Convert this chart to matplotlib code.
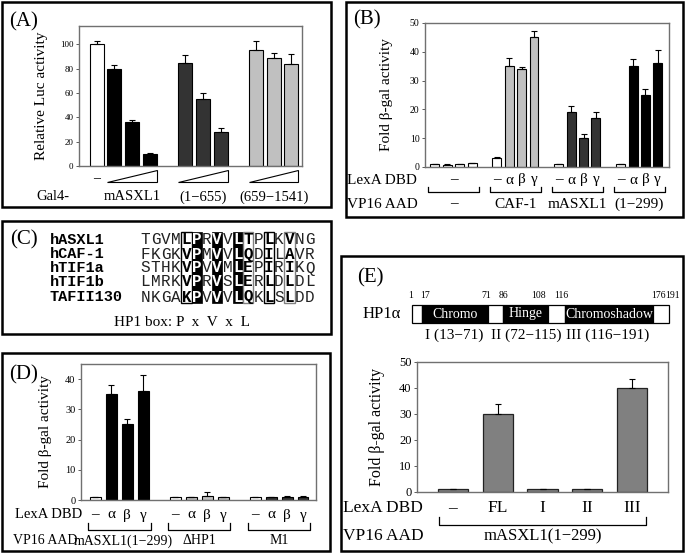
import numpy as np
import matplotlib.pyplot as plt
from matplotlib.patches import Rectangle, Polygon
from matplotlib.transforms import blended_transform_factory

# ---------------- data ----------------
# (A) Gal4 luciferase repression
a_ctrl = [100]
a_ctrl_err = [3]
a_full = [80, 36, 10]
a_full_err = [3, 2, 0.5]
a_nterm = [85, 55, 28]
a_nterm_err = [6, 5, 3]
a_cterm = [95, 89, 84]
a_cterm_err = [8, 4, 8]
a_groups = ['mASXL1', '(1\u2212655)', '(659\u22121541)']

# (B) two-hybrid, HP1 isoforms
b_dbd = ['\u2013', '\u03b1', '\u03b2', '\u03b3']
b_aad = ['\u2013', 'CAF-1', 'mASXL1', '(1\u2212299)']
b_vals = [[1, 0.8, 1, 1.3], [3, 35, 34, 45], [1, 19, 10, 17], [1, 35, 25, 36]]
b_errs = [[0.1, 0.1, 0.1, 0.1], [0.5, 2.7, 0.8, 2.3], [0.2, 2.2, 1.5, 2.0], [0.2, 2.5, 2.2, 4.6]]

# (C) HP1 box alignment
c_names = ['hASXL1', 'hCAF-1', 'hTIF1a', 'hTIF1b', 'TAFII130']
c_seqs = ['TGVMLPRVVLTPLKVNG', 'FKGKVPMVVLQDILAVR', 'STHKVPVVMLEPIRIKQ',
          'LMRKVPRVSLERLDLDL', 'NKGAKPVVVLQKLSLDD']
c_black = [5, 7, 9]
c_boxed = [4, 10, 12, 14]

# (D) HP1 box mutants
d_aad = ['mASXL1(1\u2212299)', '\u0394HP1', 'M1']
d_vals = [[1, 35, 25, 36], [1, 1, 1.2, 1], [1, 1, 1.1, 1.1]]
d_errs = [[0.1, 3.2, 1.8, 5.5], [0.1, 0.1, 1.3, 0.1], [0.1, 0.1, 0.2, 0.2]]

# (E) HP1alpha domains
e_dbd = ['\u2013', 'FL', 'I', 'II', 'III']
e_vals = [1, 30, 1, 1, 40]
e_errs = [0.3, 3.7, 0.1, 0.1, 3.5]
hp1_domains = ['Chromo', 'Hinge', 'Chromoshadow']
hp1_residues = [1, 17, 71, 86, 108, 116, 176, 191]
hp1_fragments = ['I (13\u221271)', 'II (72\u2212115)', 'III (116\u2212191)']

# ---------------- layout helpers (pixel coords, y down) ----------------
W, H = 685, 553
plt.rcParams['font.family'] = ['Liberation Serif', 'DejaVu Serif']
fig = plt.figure(figsize=(W / 100, H / 100), dpi=100)


def fx(x):
    return x / W


def fy(y):
    return 1 - y / H


def panel_box(l, t, r, b):
    fig.patches.append(Rectangle((fx(l), fy(b)), (r - l) / W, (b - t) / H,
                                 transform=fig.transFigure, fill=False,
                                 lw=1.8, ec='black'))


def add_ax(l, t, r, b):
    return fig.add_axes([fx(l), fy(b), (r - l) / W, (b - t) / H])


def txt(x, y, s, **kw):
    kw.setdefault('ha', 'center')
    kw.setdefault('va', 'center')
    fig.text(fx(x), fy(y), s, **kw)


def style_ax(ax, frame='#707070', lsize=7):
    for sp in ax.spines.values():
        sp.set_color(frame)
        sp.set_linewidth(1.0)
    ax.set_xticks([])
    ax.tick_params(axis='y', direction='out', length=2, width=0.6,
                   labelsize=lsize, pad=2, color='#404040')


def bracket(ax, x0, x1, ytop, ybot):
    tr = blended_transform_factory(ax.transData, fig.transFigure)
    ax.plot([x0, x0, x1, x1], [fy(ytop), fy(ybot), fy(ybot), fy(ytop)],
            color='black', lw=0.9, transform=tr, clip_on=False)


ek = dict(ecolor='black', elinewidth=0.8, capsize=2.5, capthick=0.8)

# ================= (A) =================
panel_box(2, 2, 331, 207)
txt(24, 22, '(A)', fontsize=15)
axA = add_ax(79, 26, 302, 166)
style_ax(axA, lsize=6.5)
a_sets = [(a_ctrl, a_ctrl_err, 'white', [0]),
          (a_full, a_full_err, 'black', [1, 2, 3]),
          (a_nterm, a_nterm_err, '#333333', [5, 6, 7]),
          (a_cterm, a_cterm_err, '#c0c0c0', [9, 10, 11])]
for vals, errs, col, xs in a_sets:
    axA.bar(xs, vals, width=0.8, color=col, edgecolor='black', linewidth=0.8,
            yerr=[np.zeros(len(vals)), errs], error_kw=ek)
axA.set_xlim(-1, 11.6)
axA.set_ylim(0, 115)
axA.set_yticks(range(0, 101, 20))
txt(41, 96, 'Relative Luc activity', rotation=90, fontsize=11)
trA = blended_transform_factory(axA.transData, fig.transFigure)
axA.text(0, fy(179), '\u2013', transform=trA, ha='center', va='center', fontsize=10)
for i, xs in enumerate([[1, 2, 3], [5, 6, 7], [9, 10, 11]]):
    x0, x1 = xs[0] - 0.4, xs[-1] + 0.4
    axA.add_patch(Polygon([(x0, fy(182)), (x1, fy(182)), (x1, fy(170))],
                          closed=True, fc='white', ec='black', lw=0.8,
                          transform=trA, clip_on=False))
    axA.text(np.mean(xs), fy(197), a_groups[i], transform=trA,
             ha='center', va='center', fontsize=10.5)
txt(36, 197, 'Gal4-', fontsize=10.5, ha='left')

# ================= (B) =================
panel_box(346, 2, 683, 217)
txt(367, 20, '(B)', fontsize=15)
axB = add_ax(425, 23, 669, 167)
style_ax(axB, lsize=7)
b_colors = [['white'] * 4,
            ['white'] + ['#c0c0c0'] * 3,
            ['white'] + ['#333333'] * 3,
            ['white'] + ['black'] * 3]
trB = blended_transform_factory(axB.transData, fig.transFigure)
for g in range(4):
    xs = [g * 5 + i for i in range(4)]
    axB.bar(xs, b_vals[g], width=0.72, color=b_colors[g], edgecolor='black',
            linewidth=0.8, yerr=[np.zeros(4), b_errs[g]], error_kw=ek)
    bracket(axB, xs[0] - 0.55, xs[-1] + 0.55, 187, 192)
    if g == 0:
        axB.text(np.mean(xs), fy(180), b_dbd[0], transform=trB,
                 ha='center', va='center', fontsize=11)
    else:
        for x, s in zip(xs, b_dbd):
            axB.text(x, fy(180), s, transform=trB, ha='center', va='center', fontsize=11)
    axB.text(np.mean(xs), fy(204), b_aad[g], transform=trB,
             ha='center', va='center', fontsize=11)
axB.set_xlim(-0.8, 18.9)
axB.set_ylim(0, 50)
axB.set_yticks(range(0, 51, 10))
txt(387, 95, 'Fold \u03b2-gal activity', rotation=90, fontsize=11)
txt(347, 180, 'LexA DBD', fontsize=11, ha='left')
txt(347, 204, 'VP16 AAD', fontsize=11, ha='left')

# ================= (C) =================
panel_box(2, 221, 331, 334)
txt(24, 240, '(C)', fontsize=15)
row_y = [240, 254, 268, 282, 297]
cw = 10.3
x0 = 140
for y, name in zip(row_y, c_names):
    txt(50, y, name, ha='left', fontsize=11, family='Liberation Mono', weight='bold')
for c in c_black:
    fig.patches.append(Rectangle((fx(x0 + c * cw), fy(303)), cw / W, 71 / H,
                                 transform=fig.transFigure, fc='black', ec='black', lw=0.5))
for c in c_boxed:
    ecol = 'black' if c in (4, 12) else '#808080'
    fig.patches.append(Rectangle((fx(x0 + c * cw), fy(303)), cw / W, 71 / H,
                                 transform=fig.transFigure, fill=False, ec=ecol, lw=1.0))
for y, seq in zip(row_y, c_seqs):
    for i, ch in enumerate(seq):
        if i in c_black:
            txt(x0 + (i + 0.5) * cw, y, ch, fontsize=11.5, family='Liberation Mono',
                weight='bold', color='white')
        elif i in c_boxed:
            txt(x0 + (i + 0.5) * cw, y, ch, fontsize=11.5, family='Liberation Mono',
                weight='bold')
        else:
            txt(x0 + (i + 0.5) * cw, y, ch, fontsize=11.5, family='Liberation Mono',
                color='#222222')
txt(182, 322, 'HP1 box: P  x  V  x  L', fontsize=11)

# ================= (D) =================
panel_box(2, 353, 330, 551)
txt(24, 375, '(D)', fontsize=15)
axD = add_ax(81, 364, 316, 500)
style_ax(axD, lsize=7.5)
d_colors = [['white'] + ['black'] * 3,
            ['white'] + ['#c0c0c0'] * 3,
            ['white'] + ['#333333'] * 3]
trD = blended_transform_factory(axD.transData, fig.transFigure)
for g in range(3):
    xs = [g * 5 + i for i in range(4)]
    axD.bar(xs, d_vals[g], width=0.66, color=d_colors[g], edgecolor='black',
            linewidth=0.8, yerr=[np.zeros(4), d_errs[g]], error_kw=ek)
    bracket(axD, xs[0] - 0.45, xs[-1] + 0.45, 523, 530)
    for x, s in zip(xs, b_dbd):
        axD.text(x, fy(515), s, transform=trD, ha='center', va='center', fontsize=11)
    axD.text(np.mean(xs) + (0.25 if g == 0 else 0), fy(541), d_aad[g], transform=trD,
             ha='center', va='center', fontsize=10)
axD.set_xlim(-0.9, 13.8)
axD.set_ylim(0, 45)
axD.set_yticks(range(0, 41, 10))
txt(45, 432, 'Fold \u03b2-gal activity', rotation=90, fontsize=11)
txt(15, 515, 'LexA DBD', fontsize=10.5, ha='left')
txt(13, 541, 'VP16 AAD', fontsize=10, ha='left')

# ================= (E) =================
panel_box(341, 256, 683, 551)
txt(370, 278, '(E)', fontsize=15)
# HP1alpha schematic (positions are drawn, not to scale)
seg_px = [412, 422, 488, 503, 548, 565, 653, 669]
num_px = [411, 425, 486, 503, 538, 561, 658, 673]
for i in range(7):
    fill = 'black' if i % 2 == 1 else 'white'
    fig.patches.append(Rectangle((fx(seg_px[i]), fy(323)), (seg_px[i + 1] - seg_px[i]) / W,
                                 18 / H, transform=fig.transFigure, fc=fill,
                                 ec='black', lw=0.9))
for k, name in enumerate(hp1_domains):
    txt((seg_px[2 * k + 1] + seg_px[2 * k + 2]) / 2, 314, name, fontsize=10, color='white')
for xp, r in zip(num_px, hp1_residues):
    txt(xp, 295, str(r), fontsize=7)
txt(382, 314, 'HP1\u03b1', fontsize=12)
for xp, s in zip([454, 526, 608], hp1_fragments):
    txt(xp, 335, s, fontsize=11)

axE = add_ax(417, 362, 668, 492)
style_ax(axE, lsize=9)
xe = np.arange(len(e_vals))
axE.bar(xe, e_vals, width=0.67, color='#808080', edgecolor='#222222', linewidth=0.9,
        yerr=[np.zeros(len(e_vals)), e_errs], error_kw=ek)
axE.set_xlim(-0.8, 4.8)
axE.set_ylim(0, 50)
axE.set_yticks(range(0, 51, 10))
trE = blended_transform_factory(axE.transData, fig.transFigure)
for x, s in zip(xe, e_dbd):
    axE.text(x, fy(508), s, transform=trE, ha='center', va='center', fontsize=12.5)
bracket(axE, -0.3, 4.3, 517, 525)
axE.text(xe.mean(), fy(536), 'mASXL1(1\u2212299)', transform=trE,
         ha='center', va='center', fontsize=12)
txt(377, 427, 'Fold \u03b2-gal activity', rotation=90, fontsize=11.5)
txt(343, 508, 'LexA DBD', fontsize=12.5, ha='left')
txt(343, 536, 'VP16 AAD', fontsize=12.5, ha='left')

fig.savefig('out.png', dpi=100)
